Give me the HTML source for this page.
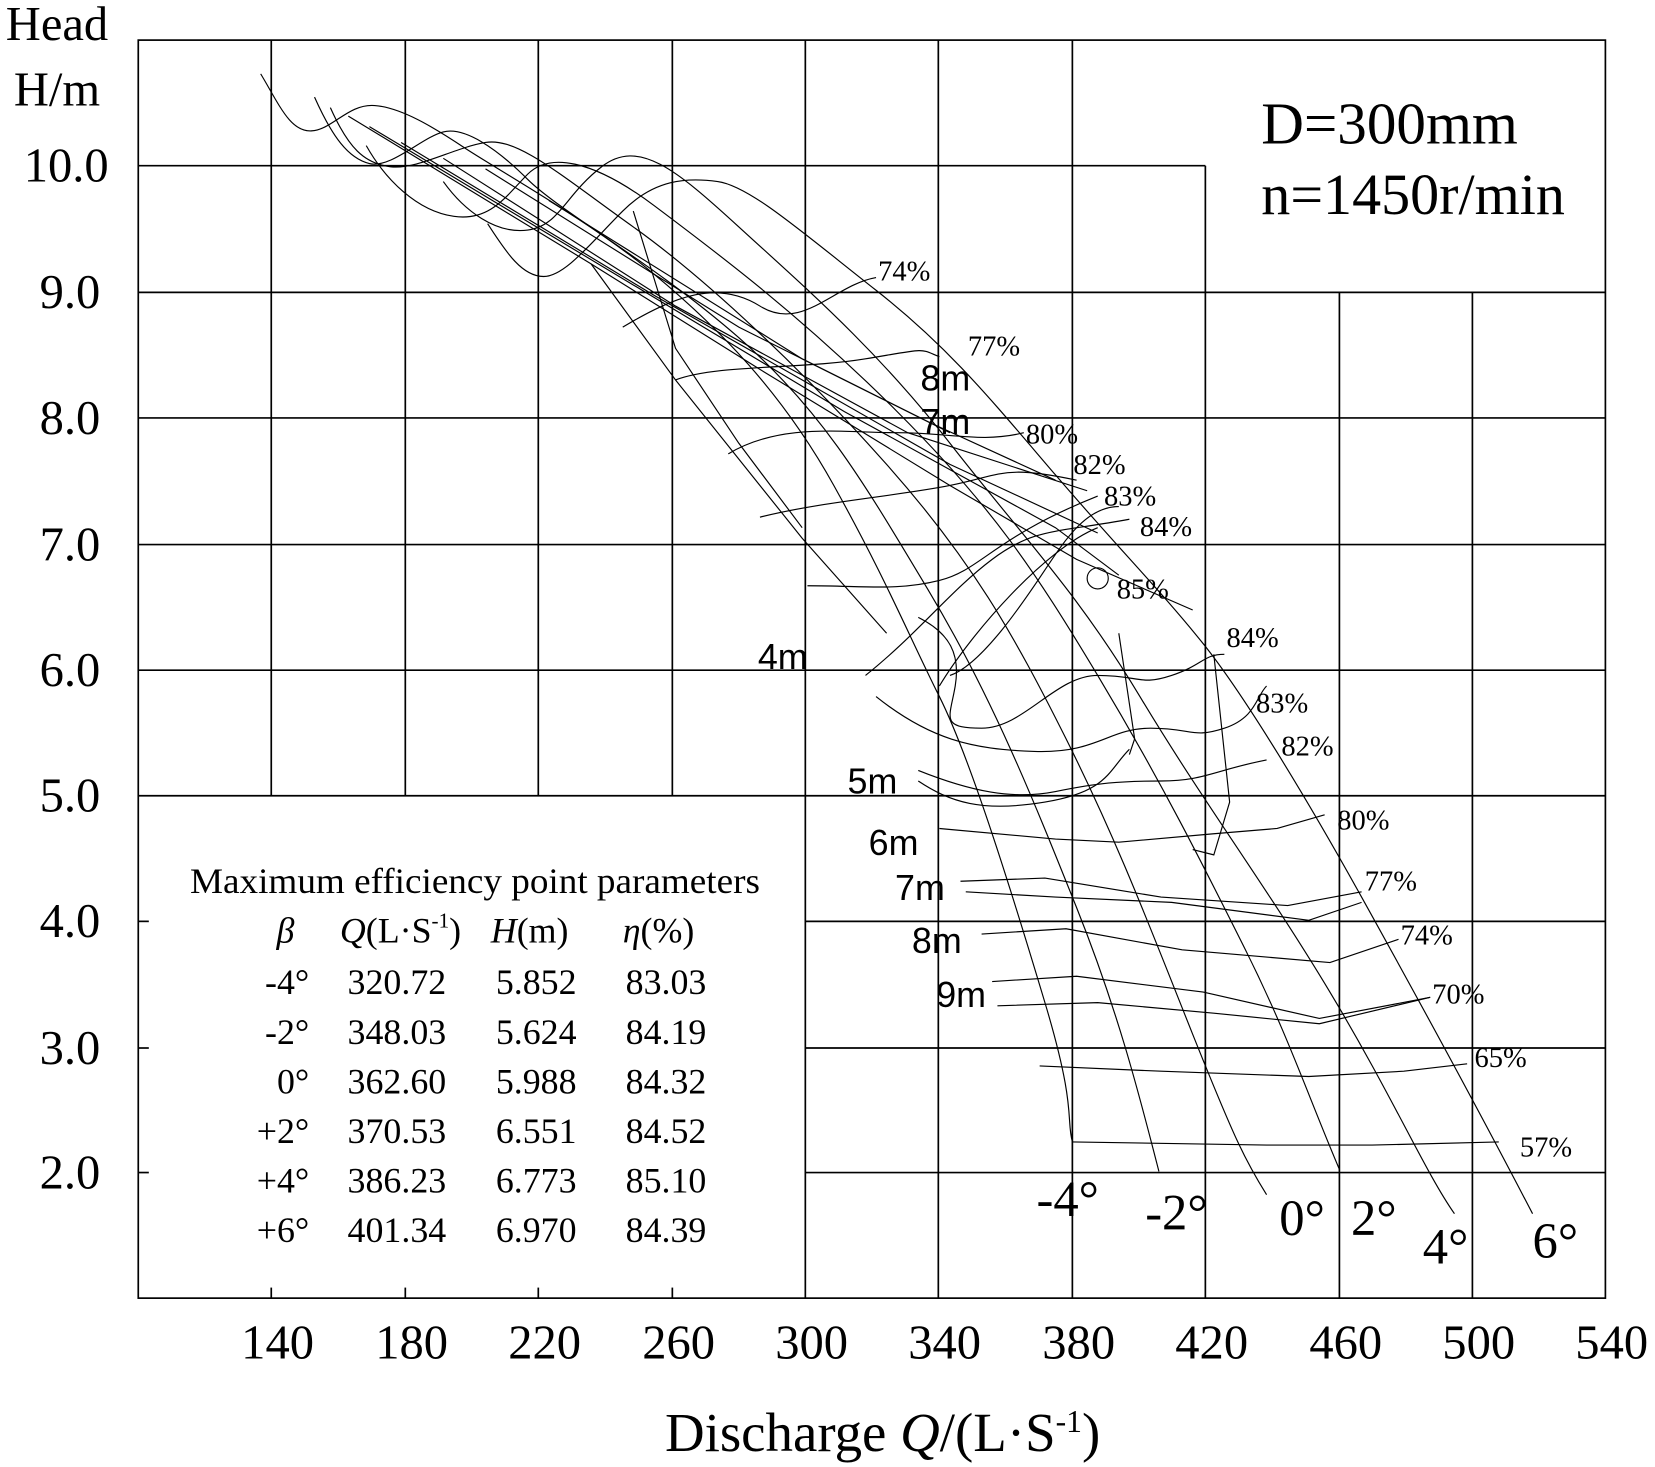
<!DOCTYPE html>
<html><head><meta charset="utf-8"><style>
html,body{margin:0;padding:0;background:#fff}
svg{display:block}
text{font-family:"Liberation Serif",serif;fill:#000}
.s text{font-family:"Liberation Sans",sans-serif}
</style></head><body>
<svg width="1655" height="1467" viewBox="0 0 1568 1390" preserveAspectRatio="none" xmlns="http://www.w3.org/2000/svg">
<g stroke="#000" stroke-width="1.6" fill="none">
<rect x="131" y="38" width="1390" height="1192"/>
<line x1="257" y1="38" x2="257" y2="754"/><line x1="384" y1="38" x2="384" y2="754"/>
<line x1="510" y1="38" x2="510" y2="754"/><line x1="637" y1="38" x2="637" y2="754"/>
<line x1="763" y1="38" x2="763" y2="1230"/><line x1="889" y1="38" x2="889" y2="1230"/>
<line x1="1016" y1="38" x2="1016" y2="1230"/><line x1="1142" y1="157" x2="1142" y2="1230"/>
<line x1="1269" y1="277" x2="1269" y2="1230"/><line x1="1395" y1="277" x2="1395" y2="1230"/>
<line x1="257" y1="1220" x2="257" y2="1230"/><line x1="384" y1="1220" x2="384" y2="1230"/>
<line x1="510" y1="1220" x2="510" y2="1230"/><line x1="637" y1="1220" x2="637" y2="1230"/>
<line x1="131" y1="157" x2="1142" y2="157"/><line x1="131" y1="277" x2="1521" y2="277"/>
<line x1="131" y1="396" x2="1521" y2="396"/><line x1="131" y1="516" x2="1521" y2="516"/>
<line x1="131" y1="635" x2="1521" y2="635"/><line x1="131" y1="754" x2="1521" y2="754"/>
<line x1="763" y1="873" x2="1521" y2="873"/><line x1="763" y1="993" x2="1521" y2="993"/>
<line x1="763" y1="1111" x2="1521" y2="1111"/>
<line x1="131" y1="873" x2="141" y2="873"/><line x1="131" y1="993" x2="141" y2="993"/><line x1="131" y1="1111" x2="141" y2="1111"/>
</g>
<g stroke="#000" stroke-width="1.1" fill="none">
<path d="M247,70 C265,100 275,125 295,124 S330,98 355,100 S410,120 440,140 S560,210 620,260 S740,370 790,460 S860,600 890,660 S960,850 990,950 S1010,1060 1016,1082"/>
<path d="M298,92 C315,130 330,150 350,155 S400,130 420,125 S470,140 500,170 S620,250 700,320 S820,460 880,560 S980,760 1020,860 S1080,1040 1098,1110"/>
<path d="M313,102 C330,140 345,155 370,158 S430,140 460,135 S530,165 600,215 S760,350 840,440 S960,600 1010,700 S1090,880 1130,980 S1180,1100 1200,1132"/>
<path d="M347,138 C365,170 395,200 430,205 S480,185 500,165 S560,150 620,195 S760,300 850,390 S980,540 1040,640 S1140,820 1180,900 S1240,1040 1269,1108"/>
<path d="M420,172 C440,200 470,222 500,218 S535,185 570,158 S640,160 700,215 S830,330 900,420 S1020,560 1080,660 S1200,840 1260,940 S1350,1110 1378,1150"/>
<path d="M462,212 C480,240 495,262 515,262 S560,230 590,200 S650,168 680,172 S760,220 830,275 S940,380 1000,450 S1100,560 1140,610 S1240,760 1290,850 S1400,1050 1452,1150"/>
<path d="M330,110 L560,250 L720,350 L900,460 L1020,530 L1130,578"/>
<path d="M350,120 L600,270 L800,390 L1000,500 L1060,545"/>
<path d="M380,135 L620,280 L900,440 L1040,505"/>
<path d="M420,150 L640,290 L860,410 L1030,465"/>
<path d="M460,160 L700,310 L880,400 L1000,455"/>
<path d="M520,190 L760,340 L900,410"/>
<path d="M600,200 L640,330 L700,420 L760,500"/>
<path d="M560,250 L640,360 L760,510 L840,600"/>
<path d="M590,310 C640,280 680,265 720,290 S790,270 830,263"/>
<path d="M640,360 C680,345 760,350 820,340 S870,330 890,338"/>
<path d="M690,430 C740,400 800,410 850,410 S930,420 970,410"/>
<path d="M720,490 C780,475 850,470 900,460 S950,440 1020,455"/>
<path d="M765,555 C820,555 850,560 890,550 S940,510 1040,470"/>
<path d="M820,640 C870,600 900,560 940,530 S1000,505 1070,492"/>
<path d="M890,650 C920,600 990,520 1040,500"/>
<path d="M870,585 C900,600 910,620 905,650 S890,690 930,690 S1000,640 1040,640 S1080,650 1110,640 S1140,620 1160,620"/>
<path d="M900,640 C930,630 970,570 990,540 S1030,480 1060,480"/>
<path d="M830,660 C880,700 920,710 980,712 S1050,690 1090,690 S1130,700 1160,690 S1190,660 1200,650"/>
<path d="M870,730 C920,750 960,758 1000,750 S1060,740 1100,740 S1150,730 1200,720"/>
<path d="M870,740 C900,760 930,770 990,760 S1050,730 1070,710"/>
<path d="M890,785 L1000,795 L1060,798 L1150,790 L1210,785 L1255,772"/>
<path d="M910,835 L990,832 L1100,850 L1220,858 L1290,845"/>
<path d="M915,845 L1000,850 L1110,855 L1240,872 L1290,855"/>
<path d="M930,885 L1010,880 L1120,900 L1260,912 L1325,890"/>
<path d="M940,930 L1020,925 L1140,940 L1250,965 L1355,945"/>
<path d="M945,953 L1040,950 L1150,960 L1250,970 L1355,945"/>
<path d="M985,1010 L1100,1015 L1240,1020 L1330,1015 L1390,1008"/>
<path d="M1016,1082 L1200,1085 L1300,1085 L1420,1082"/>
<path d="M1150,620 L1165,760 L1150,810 L1130,805"/>
<path d="M1060,600 L1075,700 L1070,715"/>
<circle cx="1040" cy="548" r="10"/>
</g>
<g font-size="46">
<text x="54" y="38" text-anchor="middle" font-size="46">Head</text>
<text x="54" y="100" text-anchor="middle" font-size="46">H/m</text>
<text x="103" y="172" text-anchor="end">10.0</text><text x="95" y="292" text-anchor="end">9.0</text>
<text x="95" y="411" text-anchor="end">8.0</text><text x="95" y="531" text-anchor="end">7.0</text>
<text x="95" y="650" text-anchor="end">6.0</text><text x="95" y="769" text-anchor="end">5.0</text>
<text x="95" y="888" text-anchor="end">4.0</text><text x="95" y="1008" text-anchor="end">3.0</text>
<text x="95" y="1126" text-anchor="end">2.0</text>
<g text-anchor="middle">
<text x="263" y="1287">140</text><text x="390" y="1287">180</text><text x="516" y="1287">220</text>
<text x="643" y="1287">260</text><text x="769" y="1287">300</text><text x="895" y="1287">340</text>
<text x="1022" y="1287">380</text><text x="1148" y="1287">420</text><text x="1275" y="1287">460</text>
<text x="1401" y="1287">500</text><text x="1527" y="1287">540</text>
</g>
</g>
<text x="630" y="1375" font-size="52">Discharge <tspan font-style="italic">Q</tspan>/(L·S<tspan font-size="30" dy="-18">-1</tspan><tspan dy="18">)</tspan></text>
<text x="1195" y="136" font-size="56">D=300mm</text>
<text x="1195" y="203" font-size="55">n=1450r/min</text>
<g font-size="27">
<text x="832" y="266">74%</text><text x="917" y="337">77%</text><text x="972" y="420">80%</text>
<text x="1017" y="449">82%</text><text x="1046" y="479">83%</text><text x="1080" y="508">84%</text>
<text x="1058" y="567">85%</text><text x="1162" y="613">84%</text><text x="1190" y="675">83%</text>
<text x="1214" y="716">82%</text><text x="1267" y="786">80%</text><text x="1293" y="844">77%</text>
<text x="1327" y="895">74%</text><text x="1357" y="951">70%</text><text x="1397" y="1011">65%</text>
<text x="1440" y="1096">57%</text>
</g>
<g class="s" font-size="34">
<text x="872" y="370">8m</text><text x="872" y="411">7m</text><text x="718" y="634">4m</text>
<text x="803" y="752">5m</text><text x="823" y="810">6m</text><text x="848" y="853">7m</text>
<text x="864" y="903">8m</text><text x="887" y="954">9m</text>
</g>
<g font-size="48">
<text x="982" y="1152">-4°</text><text x="1085" y="1165">-2°</text><text x="1212" y="1170">0°</text>
<text x="1280" y="1170">2°</text><text x="1348" y="1197">4°</text><text x="1452" y="1192">6°</text>
</g>
<g font-size="34">
<text x="180" y="846" textLength="540" lengthAdjust="spacingAndGlyphs">Maximum efficiency point parameters</text>
<text x="262" y="893" font-style="italic">β</text>
<text x="322" y="893"><tspan font-style="italic">Q</tspan>(L·S<tspan font-size="20" dy="-14">-1</tspan><tspan dy="14">)</tspan></text>
<text x="465" y="893"><tspan font-style="italic">H</tspan>(m)</text>
<text x="590" y="893"><tspan font-style="italic">η</tspan>(%)</text>
<g text-anchor="end">
<text x="293" y="942">-4°</text><text x="293" y="989">-2°</text><text x="293" y="1036">0°</text>
<text x="293" y="1083">+2°</text><text x="293" y="1130">+4°</text><text x="293" y="1177">+6°</text>
</g>
<g text-anchor="middle">
<text x="376" y="942">320.72</text><text x="376" y="989">348.03</text><text x="376" y="1036">362.60</text>
<text x="376" y="1083">370.53</text><text x="376" y="1130">386.23</text><text x="376" y="1177">401.34</text>
<text x="508" y="942">5.852</text><text x="508" y="989">5.624</text><text x="508" y="1036">5.988</text>
<text x="508" y="1083">6.551</text><text x="508" y="1130">6.773</text><text x="508" y="1177">6.970</text>
<text x="631" y="942">83.03</text><text x="631" y="989">84.19</text><text x="631" y="1036">84.32</text>
<text x="631" y="1083">84.52</text><text x="631" y="1130">85.10</text><text x="631" y="1177">84.39</text>
</g>
</g>
</svg>
</body></html>
